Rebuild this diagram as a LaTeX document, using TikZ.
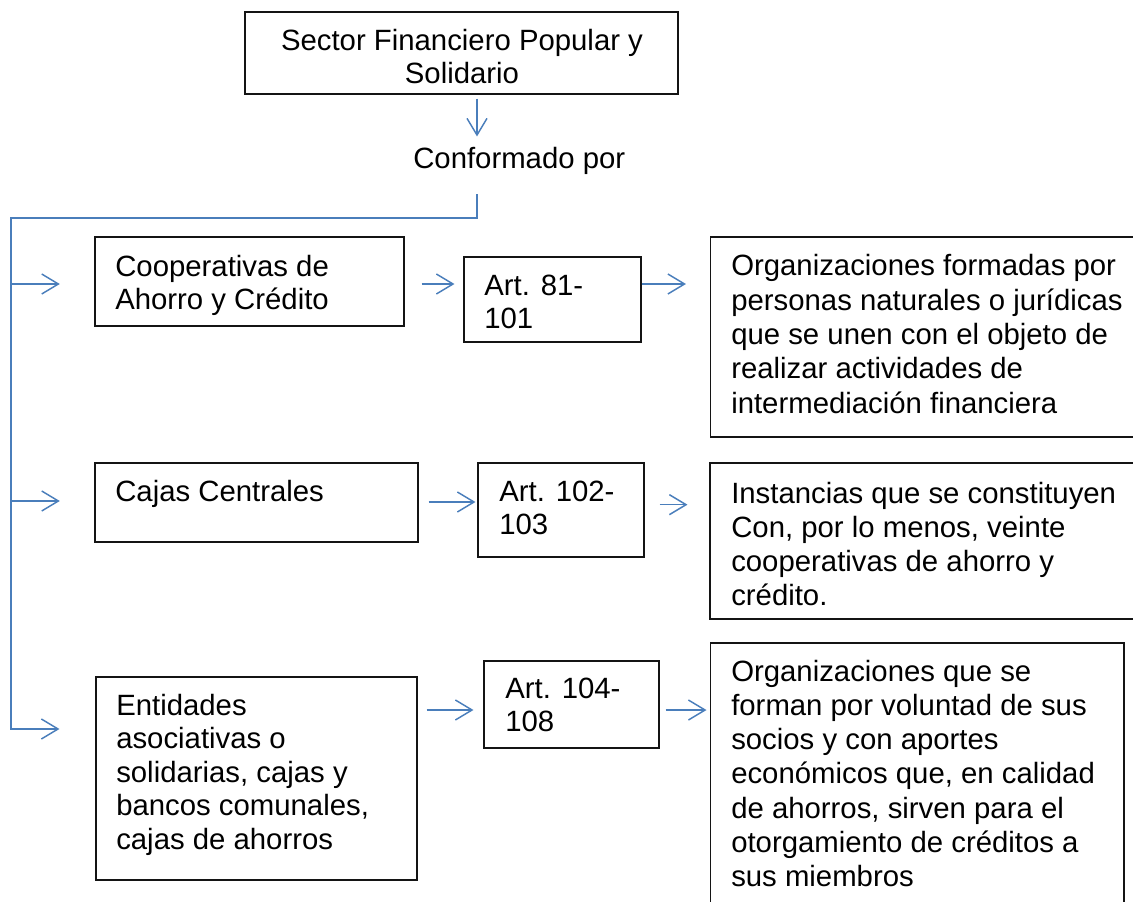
\documentclass[tikz,border=0pt]{standalone}
\usepackage{fontspec}
\setmainfont{Liberation Sans}
\usetikzlibrary{arrows.meta,fit}
\definecolor{wblue}{RGB}{74,126,187}
\definecolor{boxline}{RGB}{20,20,20}
\begin{document}
\begin{tikzpicture}[x=0.75pt,y=-0.75pt,
  box/.style={draw=boxline,line width=0.8pt,inner sep=0pt,fill=none},
  txt/.style={inner sep=0pt,align=left,anchor=base west,font=\fontsize{22}{25.2}\selectfont},
  rtxt/.style={txt,font=\fontsize{22}{25.7}\selectfont},
  conn/.style={draw=wblue,line width=1.1pt},
  arr/.style={conn,-{Straight Barb[length=12.5pt,width=15pt,line width=1.1pt]}}]
\clip (0,0) rectangle (1133,901);
\fill[white] (0,0) rectangle (1133,901);
% boxes
\node[box,fit={(245,12) (678,94)}] (top) {};
\node[box,fit={(95,237) (404,326)}] (coop) {};
\node[box,fit={(464,257) (641,342)}] (art1) {};
\node[box,fit={(710.5,237) (1150,437)}] (org1) {};
\node[box,fit={(95,463) (418,542)}] (cajas) {};
\node[box,fit={(478,463) (644,557)}] (art2) {};
\node[box,fit={(710,463) (1150,619)}] (org2) {};
\node[box,fit={(96,677) (417,880)}] (ent) {};
\node[box,fit={(484,661) (659,748)}] (art3) {};
\node[box,fit={(710.5,643) (1124,920)}] (org3) {};
% texts (positions are the baseline of the last line)
\node[txt,align=center,anchor=base] (ttop) at (462,83.6) {Sector Financiero Popular y\\Solidario};
\node[txt] (conf) at (413,168) {Conformado por};
\node[txt] (tcoop) at (115,309.6) {Cooperativas de\\Ahorro y Crédito};
\node[txt] (tart1) at (484,328.6) {Art. 81-\\101};
\node[rtxt] (torg1) at (731,413) {Organizaciones formadas por\\personas naturales o jurídicas\\que se unen con el objeto de\\realizar actividades de\\intermediación financiera};
\node[txt] (tcajas) at (115,501) {Cajas Centrales};
\node[txt] (tart2) at (499,534.6) {Art. 102-\\103};
\node[rtxt] (torg2) at (731,605.8) {Instancias que se constituyen\\Con, por lo menos, veinte\\cooperativas de ahorro y\\crédito.};
\node[txt] (tent) at (116,849.4) {Entidades\\asociativas o\\solidarias, cajas y\\bancos comunales,\\cajas de ahorros};
\node[txt] (tart3) at (505,731.6) {Art. 104-\\108};
\node[rtxt] (torg3) at (731,886.6) {Organizaciones que se\\forman por voluntad de sus\\socios y con aportes\\económicos que, en calidad\\de ahorros, sirven para el\\otorgamiento de créditos a\\sus miembros};
% helper coordinates
\coordinate (j) at (477,218);
\coordinate (s1) at (11,284);
\coordinate (s2) at (11,501);
\coordinate (s3) at (11,729);
\coordinate (r1) at (0,284);
\coordinate (r2) at (0,502);
\coordinate (r3) at (0,710);
% top connectors
\draw[arr,shorten <=3pt,shorten >=7.5pt] (top.south -| j) -- (conf.north -| j);
\draw[arr,shorten <=15pt,shorten >=27pt] (conf.south -| j) -- (j) -- (j -| s3) -- (s3) -- (s3 -| ent.west);
\draw[arr,shorten >=26pt] (s1) -- (s1 -| coop.west);
\draw[arr,shorten >=26pt] (s2) -- (s2 -| cajas.west);
% row connectors
\draw[arr,shorten <=12.75pt,shorten >=6.75pt] (coop.east |- r1) -- (art1.west |- r1);
\draw[arr,shorten >=18pt] (art1.east |- r1) -- (org1.west |- r1);
\draw[arr,shorten <=7.5pt,shorten >=1.5pt] (cajas.east |- r2) -- (art2.west |- r2);
\draw[arr,shorten <=11.25pt,shorten >=16.5pt] ([yshift=-2pt]art2.east |- r2) -- ([yshift=-2pt]org2.west |- r2);
\draw[arr,shorten <=6.75pt,shorten >=7.5pt] (ent.east |- r3) -- (art3.west |- r3);
\draw[arr,shorten <=4.5pt,shorten >=2.6pt] (art3.east |- r3) -- (org3.west |- r3);
\end{tikzpicture}
\end{document}
